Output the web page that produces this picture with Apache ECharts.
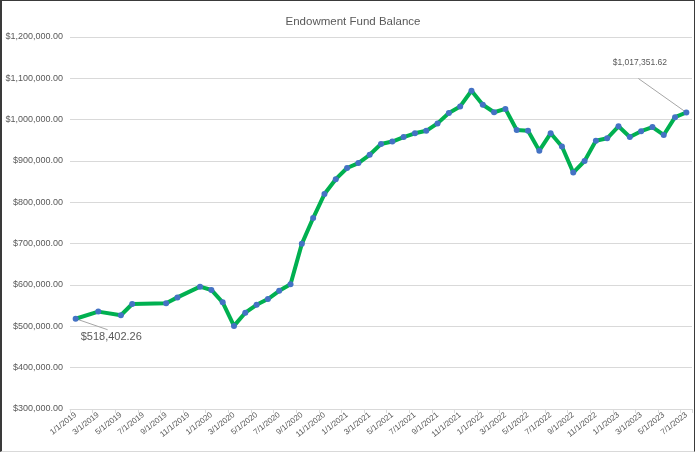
<!DOCTYPE html>
<html>
<head>
<meta charset="utf-8">
<script src="https://cdn.jsdelivr.net/npm/echarts@6/dist/echarts.min.js"></script>
<style>
  html, body { margin: 0; padding: 0; background: #fff; }
  #wrap { position: relative; width: 695px; height: 452px; }
  #main { width: 695px; height: 452px; }
  #frame {
    position: absolute; left: 0; top: 0; right: 0; bottom: 0;
    border-left: 2px solid #3a3a3a; border-top: 1px solid #3a3a3a;
    border-right: 1px solid #3a3a3a; border-bottom: 1px solid #d9d9d9;
    pointer-events: none; box-sizing: border-box;
  }
</style>
</head>
<body>
<div id="wrap">
  <div id="main"></div>
  <div id="frame"></div>
</div>
<script>
// monthly slots, first of each month
var months = [
  "1/1/2019", "2/1/2019", "3/1/2019", "4/1/2019", "5/1/2019", "6/1/2019",
  "7/1/2019", "8/1/2019", "9/1/2019", "10/1/2019", "11/1/2019", "12/1/2019",
  "1/1/2020", "2/1/2020", "3/1/2020", "4/1/2020", "5/1/2020", "6/1/2020",
  "7/1/2020", "8/1/2020", "9/1/2020", "10/1/2020", "11/1/2020", "12/1/2020",
  "1/1/2021", "2/1/2021", "3/1/2021", "4/1/2021", "5/1/2021", "6/1/2021",
  "7/1/2021", "8/1/2021", "9/1/2021", "10/1/2021", "11/1/2021", "12/1/2021",
  "1/1/2022", "2/1/2022", "3/1/2022", "4/1/2022", "5/1/2022", "6/1/2022",
  "7/1/2022", "8/1/2022", "9/1/2022", "10/1/2022", "11/1/2022", "12/1/2022",
  "1/1/2023", "2/1/2023", "3/1/2023", "4/1/2023", "5/1/2023", "6/1/2023",
  "7/1/2023"
];

// fund balance, null = no entry that month
var balance = [
  518402.26, null, 535600, null, 526900, 554000, null, null, 556000, 570000, null, 596000,
  588000, 558000, 501000, 533000, 552000, 566000, 586000, 602000, 699500, 762000, 820000, 856000,
  883000, 895000, 915000, 941000, 947000, 958000, 967000, 973000, 991000, 1016000, 1032000, 1070000,
  1036000, 1018000, 1026000, 975000, 973000, 925000, 967000, 935000, 872000, 900000, 949000, 955000,
  984000, 958000, 972000, 982000, 963000, 1006000, 1017351.62
];

var yTicks = [300000, 400000, 500000, 600000, 700000, 800000, 900000, 1000000, 1100000, 1200000];

var lastIdx = balance.length - 1;

function money(v) {
  return "$" + v.toLocaleString("en-US", { minimumFractionDigits: 2, maximumFractionDigits: 2 });
}

var myChart = echarts.init(document.getElementById("main"));

var option = {
  animation: false,
  title: {
    text: "Endowment Fund Balance",
    left: 348,
    textAlign: "center",
    top: 11,
    textStyle: {
      color: "#595959",
      fontSize: 11.5,
      fontWeight: "normal",
      fontFamily: "Liberation Sans"
    }
  },
  grid: {
    left: 70,
    right: 3,
    top: 37,
    bottom: 43
  },
  xAxis: {
    type: "category",
    data: months,
    boundaryGap: true,
    axisLine: { lineStyle: { color: "#d9d9d9" } },
    axisTick: {
      show: true,
      interval: 1,
      length: 4,
      lineStyle: { color: "#d9d9d9" }
    },
    axisLabel: {
      interval: 1,
      rotate: 38,
      margin: 5,
      color: "#595959",
      fontSize: 8,
      fontFamily: "Liberation Sans"
    }
  },
  yAxis: {
    type: "value",
    min: yTicks[0],
    max: yTicks[yTicks.length - 1],
    interval: 100000,
    axisLine: { show: false },
    axisTick: { show: false },
    splitLine: { lineStyle: { color: "#d9d9d9", width: 1 } },
    axisLabel: {
      margin: 7,
      color: "#595959",
      fontSize: 9,
      fontFamily: "Liberation Sans",
      formatter: function (v) { return money(v); }
    }
  },
  series: [
    {
      type: "line",
      data: balance,
      connectNulls: true,
      symbol: "circle",
      symbolSize: 6,
      lineStyle: { color: "#00B050", width: 4 },
      itemStyle: { color: "#4472C4" }
    }
  ]
};

myChart.setOption(option);

// data labels for the first and last balance, offset from their points with a leader line
function callout(idx, textOff, lineEnd, align, size) {
  var p = myChart.convertToPixel({ seriesIndex: 0 }, [idx, balance[idx]]);
  return [
    {
      type: "line",
      z: 1,
      silent: true,
      shape: { x1: p[0], y1: p[1], x2: p[0] + lineEnd[0], y2: p[1] + lineEnd[1] },
      style: { stroke: "#a6a6a6", lineWidth: 1 }
    },
    {
      type: "text",
      z: 5,
      silent: true,
      x: p[0] + textOff[0],
      y: p[1] + textOff[1],
      style: {
        text: money(balance[idx]),
        fill: "#595959",
        font: size + "px 'Liberation Sans'",
        textAlign: align,
        textVerticalAlign: "middle"
      }
    }
  ];
}

myChart.setOption({
  graphic: callout(0, [5, 18.5], [32, 11], "left", 11)
    .concat(callout(lastIdx, [-46.5, -49.5], [-48, -34], "center", 8.5))
});

window.onresize = myChart.resize;
</script>
</body>
</html>
